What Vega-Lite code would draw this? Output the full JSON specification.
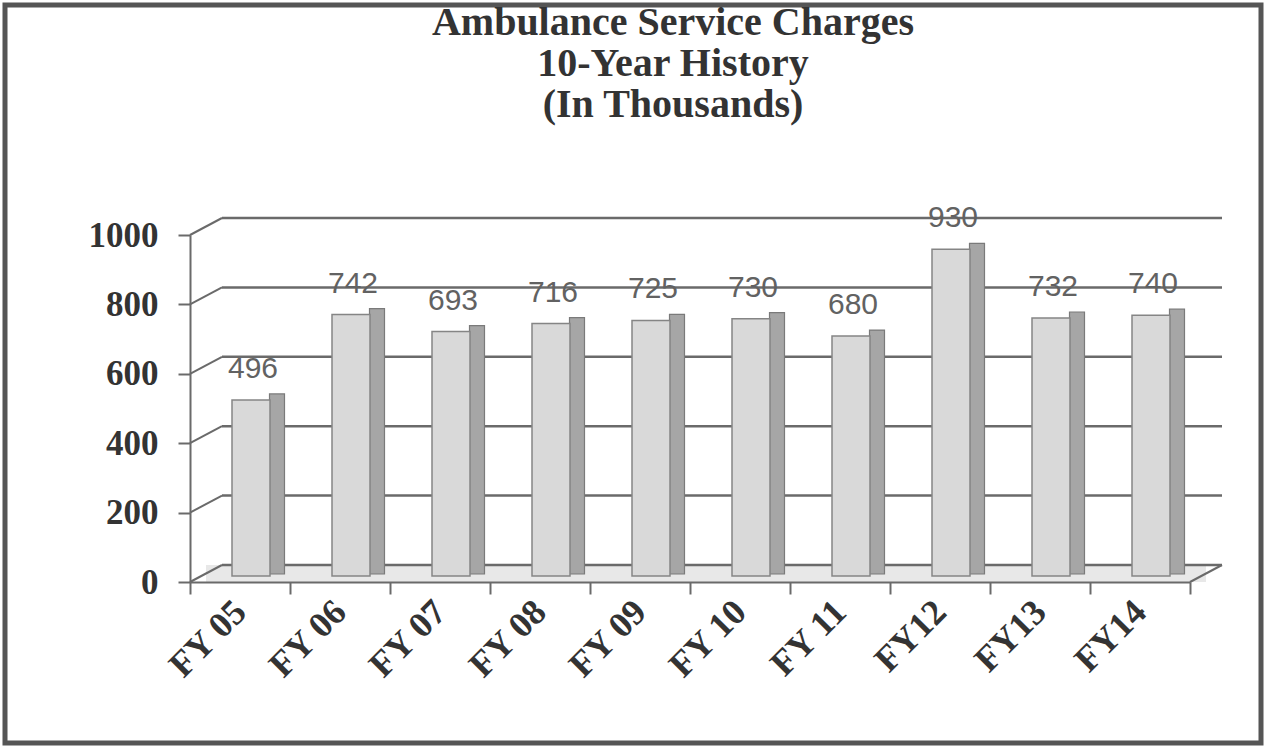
{
  "$schema": "https://vega.github.io/schema/vega-lite/v6.json",
  "width": 1256,
  "height": 738,
  "padding": 5,
  "autosize": {"type": "none"},
  "background": "white",
  "title": {
    "text": ["Ambulance Service Charges", "10-Year History", "(In Thousands)"],
    "font": "Liberation Serif",
    "fontWeight": "bold",
    "fontSize": 40,
    "lineHeight": 41,
    "color": "#333333",
    "anchor": "middle",
    "frame": "group",
    "dx": 40,
    "offset": -120
  },
  "config": {
    "view": {"stroke": "#555555", "strokeWidth": 5},
    "axis": {"grid": false, "title": null}
  },
  "datasets": {
    "charges": [
      {"fy": "FY 05", "value": 496},
      {"fy": "FY 06", "value": 742},
      {"fy": "FY 07", "value": 693},
      {"fy": "FY 08", "value": 716},
      {"fy": "FY 09", "value": 725},
      {"fy": "FY 10", "value": 730},
      {"fy": "FY 11", "value": 680},
      {"fy": "FY12", "value": 930},
      {"fy": "FY13", "value": 732},
      {"fy": "FY14", "value": 740}
    ],
    "grid": [
      {"v": 0}, {"v": 200}, {"v": 400}, {"v": 600}, {"v": 800}, {"v": 1000}
    ]
  },
  "layer": [
    {
      "data": {"values": [{"v": 0}]},
      "mark": {"type": "rect", "color": "#e8e8e8", "xOffset": 16, "x2Offset": 16, "y2Offset": -17},
      "encoding": {
        "x": {"datum": "FY 05", "bandPosition": 0, "type": "nominal", "scale": {"domain": ["FY 05", "FY 06", "FY 07", "FY 08", "FY 09", "FY 10", "FY 11", "FY12", "FY13", "FY14"], "range": [185, 1185], "paddingInner": 0, "paddingOuter": 0}},
        "x2": {"datum": "FY14", "bandPosition": 1},
        "y": {"field": "v", "type": "quantitative"},
        "y2": {"field": "v"}
      }
    },
    {
      "data": {"name": "grid"},
      "mark": {"type": "rule", "color": "#6a6a6a", "strokeWidth": 2.5, "xOffset": 32, "x2Offset": 32, "yOffset": -17},
      "encoding": {
        "x": {"datum": "FY 05", "bandPosition": 0, "type": "nominal"},
        "x2": {"datum": "FY14", "bandPosition": 1},
        "y": {"field": "v", "type": "quantitative"}
      }
    },
    {
      "data": {"name": "grid"},
      "mark": {"type": "rule", "color": "#6a6a6a", "strokeWidth": 2, "x2Offset": 32, "y2Offset": -17},
      "encoding": {
        "x": {"datum": "FY 05", "bandPosition": 0, "type": "nominal"},
        "x2": {"datum": "FY 05", "bandPosition": 0},
        "y": {"field": "v", "type": "quantitative"},
        "y2": {"field": "v"}
      }
    },
    {
      "data": {"values": [{"v": 0}]},
      "mark": {"type": "rule", "color": "#6a6a6a", "strokeWidth": 2, "x2Offset": 32, "y2Offset": -17},
      "encoding": {
        "x": {"datum": "FY14", "bandPosition": 1, "type": "nominal"},
        "x2": {"datum": "FY14", "bandPosition": 1},
        "y": {"field": "v", "type": "quantitative"},
        "y2": {"field": "v"}
      }
    },
    {
      "data": {"name": "charges"},
      "mark": {"type": "bar", "width": 15, "xOffset": 37, "yOffset": -16, "y2Offset": -8, "color": "#a6a6a6", "stroke": "#7a7a7a", "strokeWidth": 1.2},
      "encoding": {
        "x": {"field": "fy", "type": "nominal", "sort": null},
        "y": {"field": "value", "type": "quantitative"},
        "y2": {"datum": 0}
      }
    },
    {
      "data": {"name": "charges"},
      "mark": {"type": "bar", "width": 38, "xOffset": 11, "yOffset": -10, "y2Offset": -6, "color": "#d9d9d9", "stroke": "#858585", "strokeWidth": 1.5},
      "encoding": {
        "x": {"field": "fy", "type": "nominal", "sort": null},
        "y": {"field": "value", "type": "quantitative"},
        "y2": {"datum": 0}
      }
    },
    {
      "data": {"name": "charges"},
      "mark": {"type": "text", "font": "Liberation Sans", "fontSize": 30, "color": "#626262", "baseline": "bottom", "dy": -26, "dx": 13},
      "encoding": {
        "x": {"field": "fy", "type": "nominal", "sort": null},
        "y": {"field": "value", "type": "quantitative"},
        "text": {"field": "value", "type": "quantitative", "format": "d"}
      }
    }
  ],
  "resolve": {"scale": {"x": "shared", "y": "shared"}},
  "encoding": {
    "x": {
      "type": "nominal",
      "axis": {
        "offset": -161,
        "domainColor": "#6a6a6a",
        "domainWidth": 2,
        "tickColor": "#6a6a6a",
        "tickWidth": 2,
        "tickSize": 12,
        "tickBand": "extent",
        "labelAngle": -45,
        "labelAlign": "right",
        "labelBaseline": "middle",
        "labelFont": "Liberation Serif",
        "labelFontWeight": "bold",
        "labelFontSize": 36,
        "labelColor": "#333333",
        "labelPadding": 12
      }
    },
    "y": {
      "type": "quantitative",
      "scale": {"domain": [0, 1000], "range": [577, 230], "nice": false, "zero": true},
      "axis": {
        "offset": -185,
        "values": [0, 200, 400, 600, 800, 1000],
        "format": "d",
        "domainColor": "#6a6a6a",
        "domainWidth": 2,
        "tickColor": "#6a6a6a",
        "tickWidth": 2,
        "tickSize": 12,
        "labelFont": "Liberation Serif",
        "labelFontWeight": "bold",
        "labelFontSize": 35,
        "labelColor": "#333333",
        "labelPadding": 20
      }
    }
  }
}
